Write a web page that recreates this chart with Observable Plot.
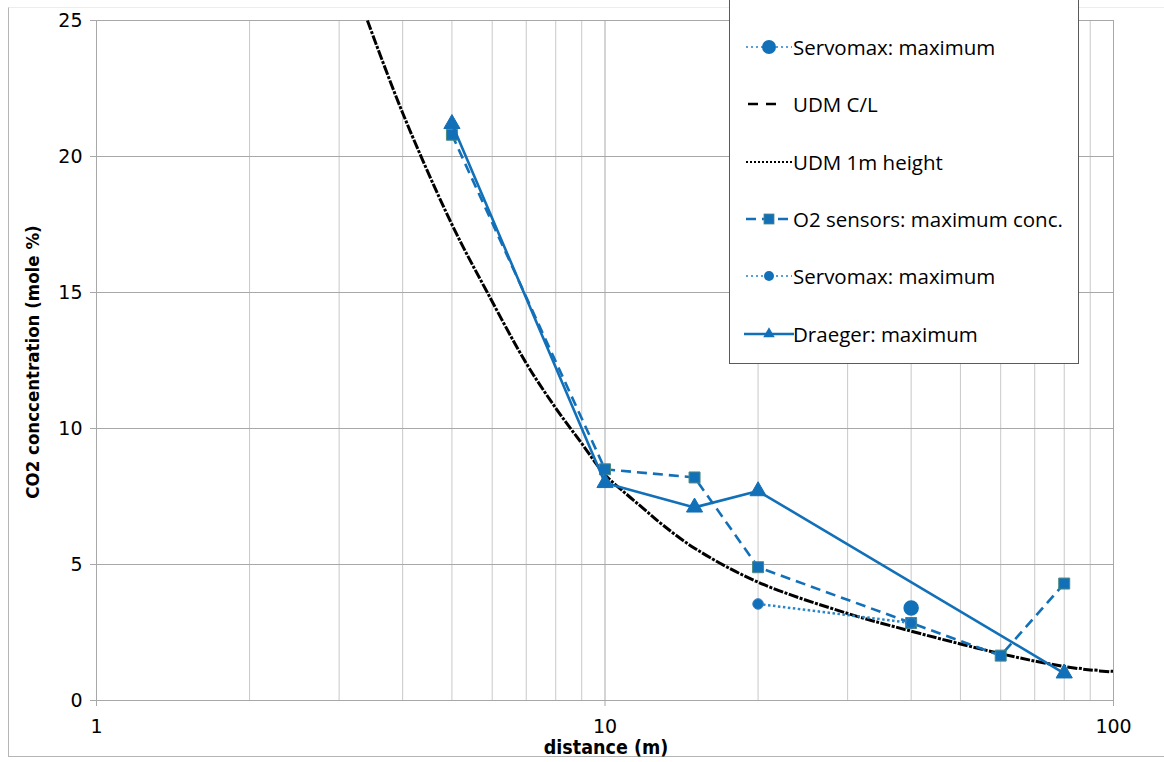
<!DOCTYPE html>
<html>
<head>
<meta charset="utf-8">
<script src="https://cdn.jsdelivr.net/npm/d3@7"></script>
<script src="https://cdn.jsdelivr.net/npm/@observablehq/plot@0.6"></script>
<style>
  body { margin: 0; background: #fff; }
  #wrap { position: relative; width: 1164px; height: 762px; overflow: hidden; font-family: "Open Sans", "Noto Sans", sans-serif; }
  #frame { position: absolute; left: 8px; top: 7px; width: 1170px; height: 750px;
           border-left: 1px solid #b5b5b5; border-bottom: 1px solid #b5b5b5; border-top: 1px solid #ececec; box-sizing: border-box; }
  #chart { position: absolute; left: 0; top: 0; }
  .axis-title { position: absolute; font-family: "Liberation Sans Narrow", "DejaVu Sans Condensed", "Arial Narrow", sans-serif;
                font-weight: bold; color: #000; white-space: nowrap; }
  #ytitle { left: 32px; top: 362px; font-size: 18.5px; transform: translate(-50%, -50%) rotate(-90deg); }
  #xtitle { left: 606px; top: 747px; font-size: 19.5px; transform: translate(-50%, -50%); }
  #legend { position: absolute; left: 729px; top: -1px; width: 350px; height: 365px; background: #fff;
            border: 1px solid #5a5a5a; box-sizing: border-box; }
  .lrow { position: absolute; left: 14px; height: 30px; display: flex; align-items: center; }
  .lrow svg { width: 50px; height: 30px; flex: none; }
  .lrow span { font-size: 20.5px; color: #000; margin-left: -1px; white-space: nowrap; }
</style>
</head>
<body>
<div id="wrap">
  <div id="frame"></div>
  <div id="chart"></div>
  <div class="axis-title" id="ytitle">CO2 conccentration (mole %)</div>
  <div class="axis-title" id="xtitle">distance (m)</div>
  <div id="legend"></div>
</div>
<script>
// Axis ticks
const majorTicks = [1, 10, 100];
const minorTicks = [2, 3, 4, 5, 6, 7, 8, 9, 20, 30, 40, 50, 60, 70, 80, 90];
const yTicks = [0, 5, 10, 15, 20, 25];

// UDM model curves (distance in m, CO2 mole %)
const udmDist = [3.41, 4, 5, 5.87, 7, 8, 9, 10, 11, 12, 13, 15, 20, 30, 40, 50, 60, 70, 80, 90, 100];
const udmCL   = [25, 21.6, 17.5, 15, 12.4, 10.75, 9.45, 8.3, 7.6, 7.0, 6.45, 5.6, 4.35, 3.2, 2.55, 2.08, 1.72, 1.45, 1.25, 1.12, 1.05];
const udm1m   = [25, 21.6, 17.5, 15, 12.4, 10.75, 9.45, 8.3, 7.6, 7.0, 6.45, 5.6, 4.35, 3.2, 2.55, 2.08, 1.72, 1.45, 1.26, 1.14, 1.07];

// Measurements
const servoADist = [40];
const servoAVal  = [3.4];
const o2Dist = [5, 10, 15, 20, 40, 60, 80];
const o2Val  = [20.8, 8.5, 8.2, 4.9, 2.85, 1.65, 4.3];
const servoBDist = [20, 40];
const servoBVal  = [3.55, 2.85];
const draegerDist = [5, 10, 15, 20, 80];
const draegerVal  = [21.2, 8.0, 7.1, 7.7, 1.0];

const blue = "#1270b8";
const edge = "#4d8a80";
const rows = (xs, ys) => xs.map((x, i) => ({x, y: ys[i]}));

const udmCLRows = rows(udmDist, udmCL);
const udm1mRows = rows(udmDist, udm1m);
const servoARows = rows(servoADist, servoAVal);
const o2Rows = rows(o2Dist, o2Val);
const servoBRows = rows(servoBDist, servoBVal);
const draegerRows = rows(draegerDist, draegerVal);

const tickFont = "DejaVu Sans, Verdana, sans-serif";

const chart = Plot.plot({
  width: 1164,
  height: 762,
  marginLeft: 96,
  marginRight: 51,
  marginTop: 20,
  marginBottom: 62,
  style: {background: "transparent", overflow: "visible"},
  x: {type: "log", domain: [1, 100]},
  y: {domain: [0, 25]},
  marks: [
    // grid
    Plot.ruleX(minorTicks, {stroke: "#c8c8c8", strokeWidth: 1}),
    Plot.ruleX(majorTicks, {stroke: "#a8a8a8", strokeWidth: 1}),
    Plot.ruleY(yTicks, {stroke: "#a8a8a8", strokeWidth: 1}),
    // axes
    Plot.axisY({ticks: yTicks, tickSize: 6, tickPadding: 8, stroke: "#a8a8a8", fill: "#000",
                fontFamily: tickFont, fontSize: 19, label: null}),
    Plot.axisX({ticks: majorTicks, tickFormat: d => String(d), tickSize: 6, tickPadding: 13,
                stroke: "#a8a8a8", fill: "#000", fontFamily: tickFont, fontSize: 19, label: null}),
    // Servomax: maximum (first series)
    Plot.line(servoARows, {x: "x", y: "y", stroke: blue, strokeWidth: 2.5, strokeDasharray: "2.5,2.5", strokeLinecap: "butt"}),
    Plot.dot(servoARows, {x: "x", y: "y", r: 7, fill: blue, stroke: blue}),
    // UDM curves; drawn on top of each other they read as a dash-dot line
    Plot.line(udmCLRows, {x: "x", y: "y", stroke: "#000", strokeWidth: 3, strokeDasharray: "10,6",
                          strokeLinecap: "butt", curve: "catmull-rom", clip: true}),
    Plot.line(udm1mRows, {x: "x", y: "y", stroke: "#000", strokeWidth: 3, strokeDasharray: "0,11.5,3,1.5",
                          strokeLinecap: "butt", curve: "catmull-rom", clip: true}),
    // O2 sensors
    Plot.line(o2Rows, {x: "x", y: "y", stroke: blue, strokeWidth: 2.6, strokeDasharray: "10,6", strokeLinecap: "butt"}),
    Plot.dot(o2Rows, {x: "x", y: "y", symbol: "square", r: 6.2, fill: blue, stroke: edge, strokeWidth: 1}),
    // Servomax: maximum (second series)
    Plot.line(servoBRows, {x: "x", y: "y", stroke: "#2a86c4", strokeWidth: 2.5, strokeDasharray: "2.5,2.5", strokeLinecap: "butt"}),
    Plot.dot(servoBRows, {x: "x", y: "y", r: 5.3, fill: blue, stroke: "#3a7fc0", strokeWidth: 1}),
    // Draeger
    Plot.line(draegerRows, {x: "x", y: "y", stroke: blue, strokeWidth: 2.6}),
    Plot.dot(draegerRows, {x: "x", y: "y", symbol: "triangle", r: 6, fill: blue, stroke: blue, strokeWidth: 1})
  ]
});
document.getElementById("chart").append(chart);

// Legend
const legendItems = [
  {label: "Servomax: maximum", line: {stroke: "#5aa0d8", dash: "2,3", width: 2}, marker: {type: "circle", r: 7}},
  {label: "UDM C/L", line: {stroke: "#000", dash: "10,8", width: 2.6, x1: 4, x2: 34}, marker: null},
  {label: "UDM 1m height", line: {stroke: "#000", dash: "2,2", width: 2, x1: 2, x2: 48}, marker: null},
  {label: "O2 sensors: maximum conc.", line: {stroke: blue, dash: "10,6", width: 2.6}, marker: {type: "square", s: 10}},
  {label: "Servomax: maximum", line: {stroke: "#5aa0d8", dash: "2,3", width: 2}, marker: {type: "circle", r: 5}},
  {label: "Draeger: maximum", line: {stroke: blue, dash: null, width: 2.6, x1: 0, x2: 50}, marker: {type: "triangle"}}
];
const legend = d3.select("#legend");
legendItems.forEach((it, i) => {
  const row = legend.append("div").attr("class", "lrow").style("top", `${32 + i * 57.3}px`);
  const svg = row.append("svg").attr("viewBox", "0 0 50 30");
  const l = it.line;
  svg.append("line")
    .attr("x1", l.x1 ?? 2).attr("x2", l.x2 ?? 48).attr("y1", 15).attr("y2", 15)
    .attr("stroke", l.stroke).attr("stroke-width", l.width)
    .attr("stroke-dasharray", l.dash);
  const m = it.marker;
  if (m && m.type === "circle") {
    svg.append("circle").attr("cx", 25).attr("cy", 15).attr("r", m.r).attr("fill", blue);
  } else if (m && m.type === "square") {
    svg.append("rect").attr("x", 25 - m.s / 2).attr("y", 15 - m.s / 2).attr("width", m.s).attr("height", m.s)
      .attr("fill", blue).attr("stroke", edge).attr("stroke-width", 0.8);
  } else if (m && m.type === "triangle") {
    svg.append("path").attr("d", d3.symbol(d3.symbolTriangle2, 95)()).attr("transform", "translate(25,15)").attr("fill", blue);
  }
  row.append("span").text(it.label);
});
</script>
</body>
</html>
